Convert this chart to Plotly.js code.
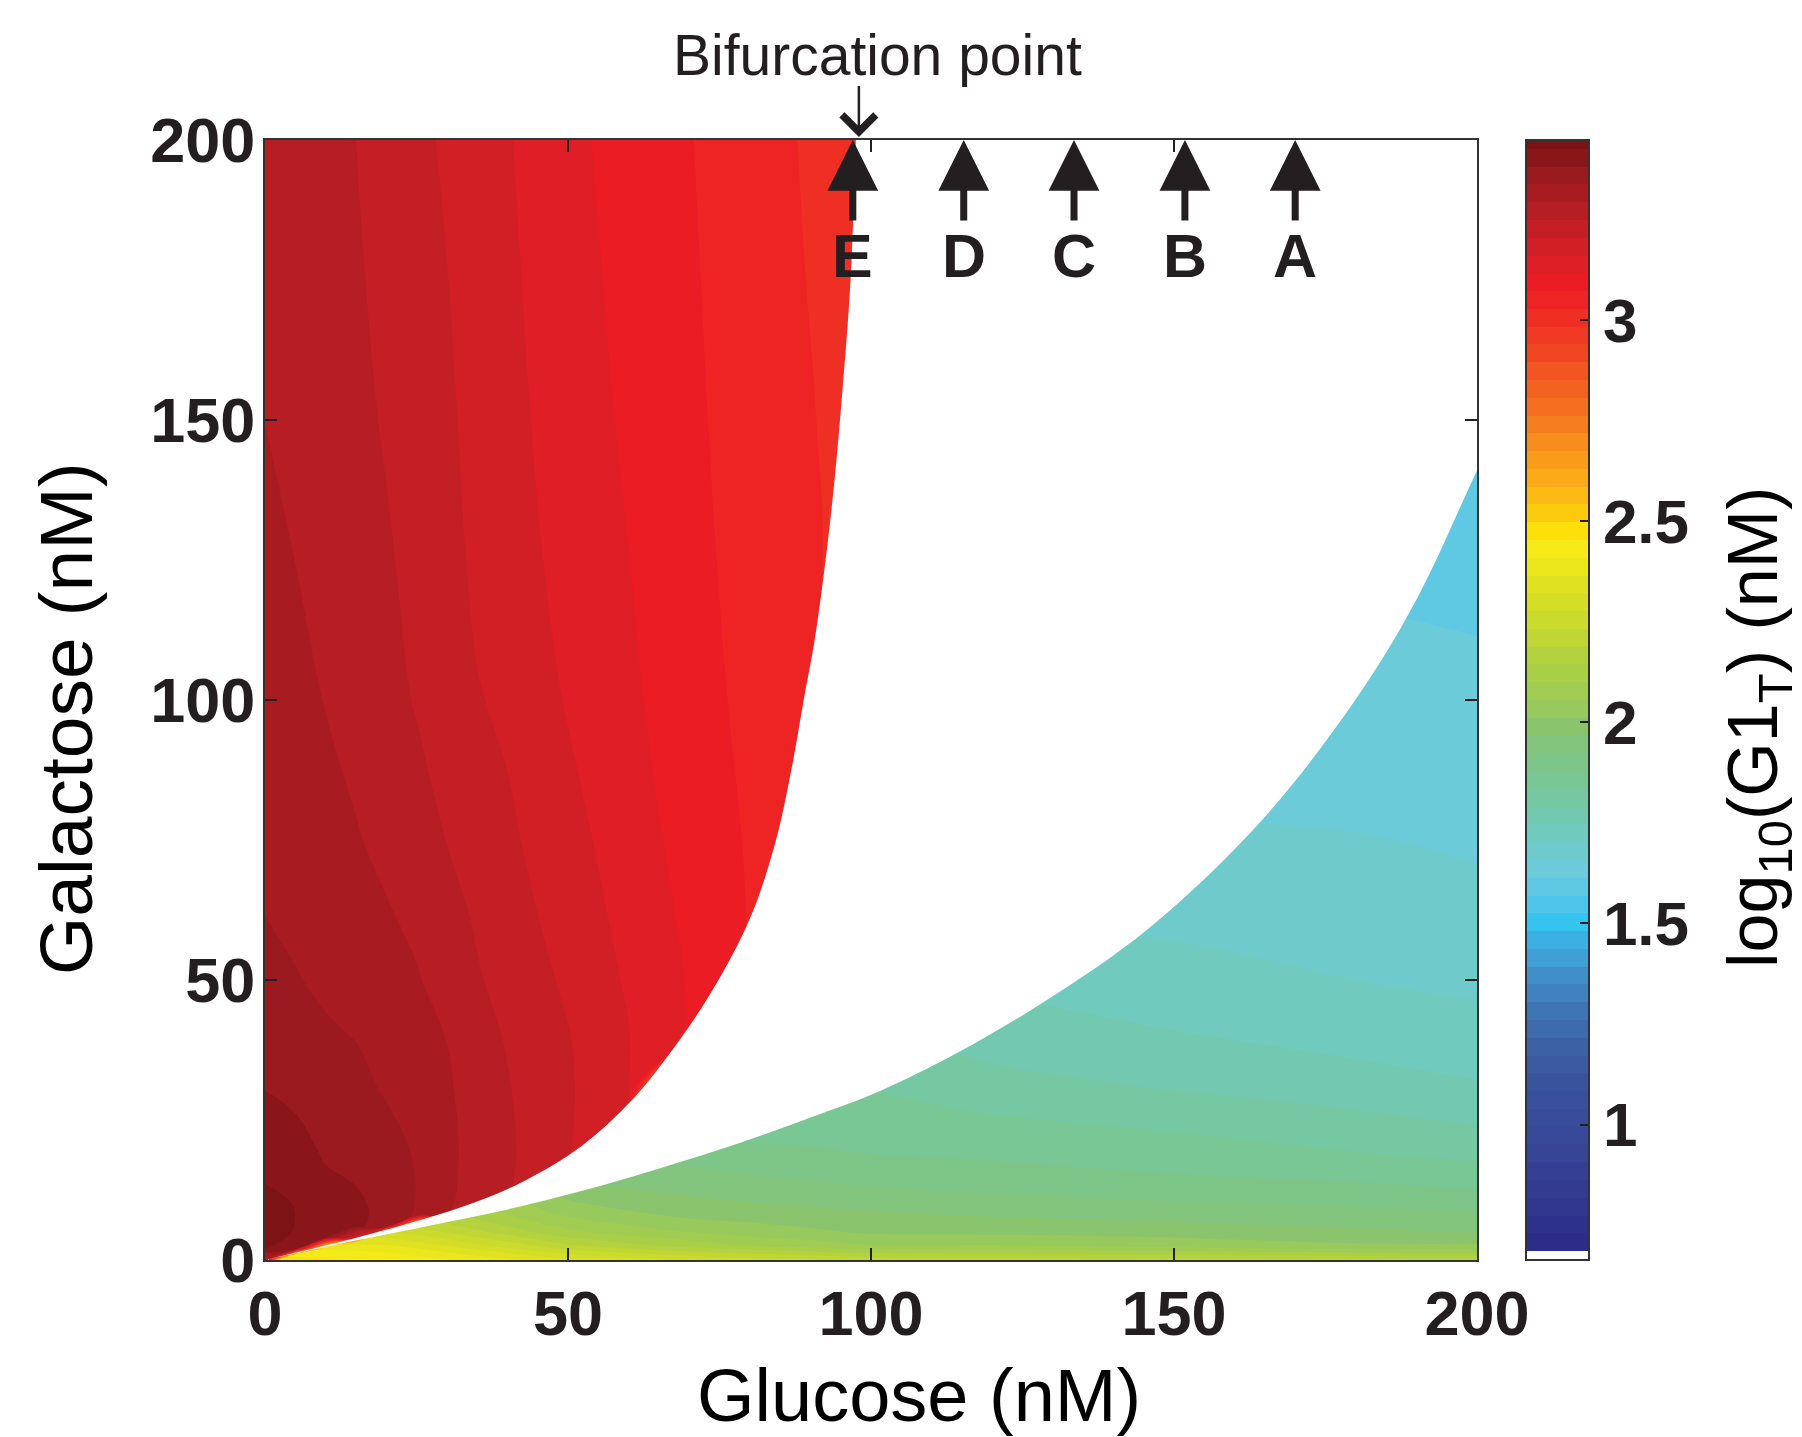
<!DOCTYPE html>
<html>
<head>
<meta charset="utf-8">
<script src="https://cdn.plot.ly/plotly-3.0.1.min.js"></script>
<style>
  html, body { margin: 0; padding: 0; background: #ffffff; }
  #chart { width: 1802px; height: 1437px; }
</style>
</head>
<body>
<div id="chart"></div>
<script>
// ---------------- DATA ----------------
// Lower (low-expression) branch of log10(G1_T) on a glucose x galactose grid
const glucoseLow = [0, 5, 10, 20, 30, 40, 50, 60, 70, 80, 90, 100, 120, 140, 160, 180, 200];
const galactoseLow = [0, 1, 2.5, 5, 7.5, 10, 15, 20, 25, 30, 40, 50, 60, 80, 100, 120, 150, 200];
const log10G1Low = [
  [2.47, 2.47, 2.46, 2.44, 2.41, 2.37, 2.33, 2.30, 2.27, 2.25, 2.24, 2.22, 2.21, 2.21, 2.21, 2.21, 2.20],
  [2.45, 2.44, 2.44, 2.42, 2.38, 2.33, 2.28, 2.25, 2.22, 2.20, 2.18, 2.16, 2.15, 2.14, 2.13, 2.12, 2.11],
  [2.40, 2.39, 2.38, 2.37, 2.32, 2.26, 2.20, 2.16, 2.13, 2.10, 2.08, 2.06, 2.06, 2.05, 2.035, 2.02, 2.02],
  [2.32, 2.31, 2.30, 2.28, 2.23, 2.17, 2.11, 2.08, 2.055, 2.035, 2.02, 2.005, 2.00, 1.995, 1.985, 1.975, 1.965],
  [2.25, 2.24, 2.23, 2.20, 2.16, 2.11, 2.06, 2.03, 2.01, 2.00, 1.99, 1.98, 1.97, 1.962, 1.953, 1.945, 1.935],
  [2.19, 2.18, 2.17, 2.15, 2.11, 2.07, 2.02, 1.995, 1.98, 1.97, 1.962, 1.953, 1.94, 1.932, 1.925, 1.918, 1.905],
  [2.10, 2.10, 2.09, 2.07, 2.04, 2.00, 1.96, 1.945, 1.935, 1.925, 1.915, 1.905, 1.895, 1.885, 1.877, 1.868, 1.855],
  [2.04, 2.04, 2.03, 2.01, 1.98, 1.95, 1.92, 1.91, 1.90, 1.885, 1.88, 1.872, 1.865, 1.858, 1.845, 1.83, 1.815],
  [1.99, 1.99, 1.98, 1.96, 1.94, 1.91, 1.89, 1.88, 1.87, 1.86, 1.855, 1.852, 1.84, 1.828, 1.815, 1.80, 1.785],
  [1.96, 1.955, 1.95, 1.93, 1.91, 1.89, 1.87, 1.86, 1.85, 1.84, 1.835, 1.834, 1.812, 1.797, 1.786, 1.772, 1.755],
  [1.90, 1.895, 1.89, 1.88, 1.87, 1.85, 1.84, 1.83, 1.82, 1.81, 1.80, 1.80, 1.77, 1.757, 1.743, 1.728, 1.715],
  [1.86, 1.855, 1.85, 1.84, 1.83, 1.82, 1.81, 1.80, 1.79, 1.78, 1.775, 1.77, 1.74, 1.722, 1.714, 1.702, 1.695],
  [1.84, 1.835, 1.83, 1.82, 1.81, 1.80, 1.79, 1.78, 1.77, 1.76, 1.75, 1.745, 1.715, 1.70, 1.69, 1.684, 1.673],
  [1.80, 1.795, 1.79, 1.78, 1.77, 1.76, 1.75, 1.74, 1.73, 1.72, 1.71, 1.70, 1.68, 1.665, 1.655, 1.652, 1.645],
  [1.77, 1.765, 1.76, 1.75, 1.74, 1.73, 1.72, 1.71, 1.70, 1.69, 1.68, 1.67, 1.65, 1.635, 1.63, 1.628, 1.625],
  [1.74, 1.735, 1.73, 1.72, 1.71, 1.70, 1.69, 1.68, 1.67, 1.66, 1.65, 1.64, 1.625, 1.612, 1.61, 1.61, 1.605],
  [1.71, 1.705, 1.70, 1.69, 1.68, 1.67, 1.66, 1.65, 1.64, 1.63, 1.62, 1.61, 1.595, 1.585, 1.585, 1.585, 1.58],
  [1.67, 1.665, 1.66, 1.65, 1.64, 1.63, 1.62, 1.61, 1.60, 1.59, 1.58, 1.57, 1.56, 1.555, 1.555, 1.555, 1.55]
];

// Upper (high-expression) branch; one list per glucose column, values along galactoseHigh
const glucoseHigh = [0, 5, 10, 15, 20, 25, 30, 35, 40, 50, 60, 70, 80, 90, 100];
const galactoseHigh = [0, 2, 4, 6, 8, 10, 15, 20, 30, 40, 50, 60, 75, 100, 125, 150, 175, 200];
const log10G1HighByGlucose = [
  [3.30, 3.43, 3.44, 3.445, 3.445, 3.44, 3.42, 3.405, 3.382, 3.365, 3.35, 3.339, 3.325, 3.31, 3.30, 3.293, 3.285, 3.28],
  [1.5, 3.40, 3.42, 3.425, 3.426, 3.424, 3.41, 3.397, 3.372, 3.355, 3.34, 3.33, 3.316, 3.302, 3.293, 3.286, 3.278, 3.272],
  [1.2, 2.3, 3.385, 3.395, 3.398, 3.396, 3.386, 3.375, 3.358, 3.343, 3.33, 3.32, 3.308, 3.292, 3.283, 3.276, 3.268, 3.262],
  [1.1, 1.4, 3.2, 3.39, 3.39, 3.388, 3.378, 3.366, 3.35, 3.336, 3.322, 3.31, 3.296, 3.28, 3.268, 3.26, 3.254, 3.249],
  [1.0, 1.2, 1.6, 3.36, 3.37, 3.37, 3.362, 3.354, 3.334, 3.322, 3.31, 3.298, 3.284, 3.268, 3.254, 3.245, 3.238, 3.232],
  [1.0, 1.0, 1.2, 2.4, 3.33, 3.335, 3.336, 3.332, 3.322, 3.31, 3.296, 3.287, 3.272, 3.245, 3.237, 3.229, 3.222, 3.215],
  [1.0, 1.0, 1.0, 1.3, 3.3, 3.30, 3.305, 3.305, 3.30, 3.292, 3.28, 3.268, 3.248, 3.232, 3.222, 3.214, 3.206, 3.199],
  [1.0, 1.0, 1.0, 1.0, 1.3, 3.27, 3.272, 3.275, 3.272, 3.262, 3.253, 3.245, 3.232, 3.208, 3.195, 3.188, 3.183, 3.178],
  [1.0, 1.0, 1.0, 1.0, 1.2, 3.25, 3.255, 3.256, 3.252, 3.246, 3.235, 3.225, 3.213, 3.196, 3.183, 3.175, 3.169, 3.164],
  [1.0, 1.0, 1.0, 1.0, 1.0, 1.2, 3.2, 3.208, 3.21, 3.207, 3.197, 3.188, 3.176, 3.157, 3.145, 3.138, 3.133, 3.128],
  [1.0, 1.0, 1.0, 1.0, 1.0, 1.0, 1.1, 3.15, 3.165, 3.162, 3.155, 3.148, 3.138, 3.125, 3.117, 3.11, 3.104, 3.098],
  [1.0, 1.0, 1.0, 1.0, 1.0, 1.0, 1.0, 1.0, 2.3, 3.11, 3.113, 3.108, 3.10, 3.09, 3.084, 3.08, 3.077, 3.074],
  [1.0, 1.0, 1.0, 1.0, 1.0, 1.0, 1.0, 1.0, 1.0, 1.0, 3.07, 3.07, 3.068, 3.062, 3.058, 3.055, 3.052, 3.05],
  [1.0, 1.0, 1.0, 1.0, 1.0, 1.0, 1.0, 1.0, 1.0, 1.0, 1.0, 1.0, 3.06, 3.04, 3.035, 3.031, 3.026, 3.022],
  [1.0, 1.0, 1.0, 1.0, 1.0, 1.0, 1.0, 1.0, 1.0, 1.0, 1.0, 1.0, 1.0, 1.5, 3.0, 3.0, 3.0, 3.0]
];

// Edges of the bistable (blank) region
const upperEdgeGlucose   = [0, 13, 22.8, 32.6, 42.4, 52.2, 60.6, 68.5, 75, 80.3, 84.2, 86.8, 88.9, 90.7, 92.7, 94, 95.3, 96.6, 97.5];
const upperEdgeGalactose = [0, 3.4, 6.25, 9.5, 13.9, 20.3, 28.6, 39.4, 50.3, 61.7, 74.5, 87.2, 100, 110.7, 126.7, 139.5, 155.4, 174.5, 200];
const lowerEdgeGlucose   = [0, 13, 26.1, 39.1, 52.2, 65.2, 78.3, 91.4, 101.5, 114.1, 128.1, 145.8, 164.8, 179.9, 189.7, 200];
const lowerEdgeGalactose = [0, 3.05, 5.9, 8.8, 12.3, 16.4, 20.9, 26, 30.2, 36.9, 45.8, 59.2, 78.9, 100, 117.3, 141];
// helper vertices lying outside the axes (clipped away) that close the blank region smoothly
const outsideGlucose   = [98.5, 230, 214];
const outsideGalactose = [230, 230, 173.5];

// Marked glucose levels at the top
const markerGlucose = [97, 115.3, 133.5, 151.8, 170];
const markerLabels  = ['E', 'D', 'C', 'B', 'A'];
const bifurcationGlucose = 98;

// Colorbar ticks
const cbTickVals = [1, 1.5, 2, 2.5, 3];
const cbTickText = ['1', '1.5', '2', '2.5', '3'];

// Colormap anchors (value -> colour) sampled from the reference colorbar
const cmapVals = [0.6633, 0.685, 0.686, 0.7075, 0.751, 0.839, 0.928, 1.016, 1.105, 1.193, 1.282, 1.370,
  1.459, 1.503, 1.547, 1.591, 1.635, 1.68, 1.724, 1.768, 1.811, 1.856, 1.9, 1.944, 1.988, 2.033, 2.077,
  2.121, 2.165, 2.21, 2.254, 2.298, 2.342, 2.387, 2.431, 2.475, 2.519, 2.563, 2.608, 2.652, 2.696, 2.74,
  2.785, 2.829, 2.873, 2.917, 2.961, 3.006, 3.05, 3.094, 3.138, 3.183, 3.227, 3.271, 3.315, 3.36, 3.404, 3.4479];
const cmapColors = ['#ffffff', '#ffffff', '#2b2d88', '#2b2d88', '#2e318b', '#333b91', '#374597', '#394c9a',
  '#3a539d', '#3c61a5', '#3e75b4', '#408fc9', '#3cb0e2', '#35c4f0', '#4ec6ec', '#5fc8e2', '#6bcbd8',
  '#6fcbcb', '#71cabe', '#73c9b0', '#75c8a2', '#78c795', '#7dc688', '#83c57c', '#8ac56f', '#97c95d',
  '#a0cc52', '#a9cf47', '#b4d23d', '#bfd634', '#cadb2d', '#d5de27', '#e0e221', '#ece71c', '#f5ea17',
  '#fde00a', '#fdcb0e', '#fbbb13', '#faab17', '#f99c1a', '#f78d1d', '#f67e1f', '#f47020', '#f36221',
  '#f25522', '#f14622', '#f03a23', '#ef2e24', '#ee2424', '#ec1c24', '#e01e26', '#d21f26', '#c41f25',
  '#b61e23', '#a81c21', '#9a1a1f', '#8b161a', '#7e1316'];

// Titles
const xTitle = 'Glucose (nM)';
const yTitle = 'Galactose (nM)';
const cbTitle = 'log<sub>10</sub>(G1<sub>T</sub>) (nM)';

// ---------------- BUILD ----------------
const LEVEL_SIZE = 0.0442;
const LEVEL_START = 0.6854;
const LEVEL_END = LEVEL_START + 62 * LEVEL_SIZE;
const vLo = LEVEL_START - LEVEL_SIZE / 2;
const vHi = LEVEL_END + LEVEL_SIZE / 2;
function frac(v) { return Math.min(1, Math.max(0, (v - vLo) / (vHi - vLo))); }

const fullScale = cmapVals.map((v, i) => [frac(v), cmapColors[i]]);
fullScale[0][0] = 0; fullScale[fullScale.length - 1][0] = 1;

// same colours, but everything below 2.5 transparent (upper branch only shows its own red/orange bands)
const CUT = 2.50;
const highScale = [[0, 'rgba(255,255,255,0)'], [frac(CUT), 'rgba(255,255,255,0)'], [frac(CUT + 0.005), '#fdcb0e']];
cmapVals.forEach((v, i) => { if (v > CUT + 0.005) highScale.push([frac(v), cmapColors[i]]); });
highScale[highScale.length - 1][0] = 1;

// transpose column lists into rows (z[row = galactose][col = glucose])
const log10G1High = galactoseHigh.map((_, r) => glucoseHigh.map((_, c) => log10G1HighByGlucose[c][r]));

const FONT = 'Liberation Sans, Arial, Helvetica, sans-serif';
const INK = '#231f20';

const contourCommon = {
  type: 'contour',
  autocontour: false,
  contours: { start: LEVEL_START, end: LEVEL_END, size: LEVEL_SIZE, coloring: 'fill', showlines: false },
  line: { width: 0, smoothing: 1.3 },
  hoverinfo: 'skip'
};

const lowTrace = Object.assign({}, contourCommon, {
  x: glucoseLow, y: galactoseLow, z: log10G1Low,
  colorscale: fullScale,
  showscale: true,
  colorbar: {
    thickness: 63, thicknessmode: 'pixels',
    len: 1, lenmode: 'fraction',
    x: 1.0404, xanchor: 'left', xpad: 0,
    y: 0.5, yanchor: 'middle', ypad: 0,
    outlinewidth: 2, outlinecolor: '#333333',
    tickmode: 'array', tickvals: cbTickVals, ticktext: cbTickText,
    ticks: 'inside', ticklen: 10, tickwidth: 2, tickcolor: INK,
    tickfont: { family: FONT, size: 62, weight: 'bold', color: INK }
  }
});

const highTrace = Object.assign({}, contourCommon, {
  x: glucoseHigh, y: galactoseHigh, z: log10G1High,
  colorscale: highScale,
  showscale: false
});

// blank (bistable) region: upper edge up, round outside the axes, lower edge back towards the origin
const blankX = upperEdgeGlucose.concat(outsideGlucose, lowerEdgeGlucose.slice(1).reverse());
const blankY = upperEdgeGalactose.concat(outsideGalactose, lowerEdgeGalactose.slice(1).reverse());
const blankTrace = {
  type: 'scatter', mode: 'lines', x: blankX, y: blankY,
  fill: 'toself', fillcolor: '#ffffff',
  line: { width: 0, color: '#ffffff', shape: 'spline', smoothing: 1 },
  hoverinfo: 'skip', showlegend: false
};

const annotations = markerGlucose.map((g, i) => ({
  x: g, y: 200, xref: 'x', yref: 'y',
  text: markerLabels[i], showarrow: true,
  arrowhead: 2, arrowsize: 1.45, arrowwidth: 7, arrowcolor: INK,
  ax: 0, ay: 116, standoff: 0,
  font: { family: FONT, size: 61, weight: 'bold', color: INK }
}));
annotations.push({
  x: bifurcationGlucose, y: 200, xref: 'x', yref: 'y',
  text: ' ', showarrow: true,
  arrowhead: 4, arrowsize: 2.6, arrowwidth: 2.5, arrowcolor: INK,
  ax: 0, ay: -58, standoff: 3,
  font: { family: FONT, size: 4, color: INK }
});
annotations.push({
  x: 101, y: 1.0759, xref: 'x', yref: 'paper',
  xanchor: 'center', yanchor: 'middle',
  text: 'Bifurcation point', showarrow: false,
  font: { family: FONT, size: 57, color: INK }
});
// axis titles and colour-bar title, placed where the reference has them
annotations.push({
  x: 0.5396, y: -0.1214, xref: 'paper', yref: 'paper',
  xanchor: 'center', yanchor: 'middle', showarrow: false,
  text: xTitle, font: { family: FONT, size: 74, color: '#000000' }
});
annotations.push({
  x: -0.1642, y: 0.4839, xref: 'paper', yref: 'paper',
  xanchor: 'center', yanchor: 'middle', showarrow: false, textangle: -90,
  text: yTitle, font: { family: FONT, size: 75, color: '#000000' }
});
annotations.push({
  x: 1.2318, y: 0.4759, xref: 'paper', yref: 'paper',
  xanchor: 'center', yanchor: 'middle', showarrow: false, textangle: -90,
  text: cbTitle, font: { family: FONT, size: 70, color: '#000000' }
});

const axisCommon = {
  range: [0, 200], tickmode: 'array', tickvals: [0, 50, 100, 150, 200],
  ticks: 'inside', ticklen: 12, tickwidth: 2, tickcolor: INK,
  showline: true, linecolor: '#333333', linewidth: 2, mirror: 'ticks',
  showgrid: false, zeroline: false,
  tickfont: { family: FONT, size: 63, weight: 'bold', color: INK }
};

const layout = {
  width: 1802, height: 1437,
  margin: { l: 265, r: 325, t: 140, b: 177, pad: 0, autoexpand: false },
  paper_bgcolor: '#ffffff', plot_bgcolor: '#ffffff',
  font: { family: FONT, color: INK },
  showlegend: false,
  xaxis: Object.assign({}, axisCommon, { ticklabelstandoff: -3 }),
  yaxis: Object.assign({}, axisCommon, { ticklabelstandoff: -5 }),
  annotations: annotations
};

Plotly.newPlot('chart', [lowTrace, highTrace, blankTrace], layout, { displayModeBar: false, staticPlot: true });
</script>
</body>
</html>
